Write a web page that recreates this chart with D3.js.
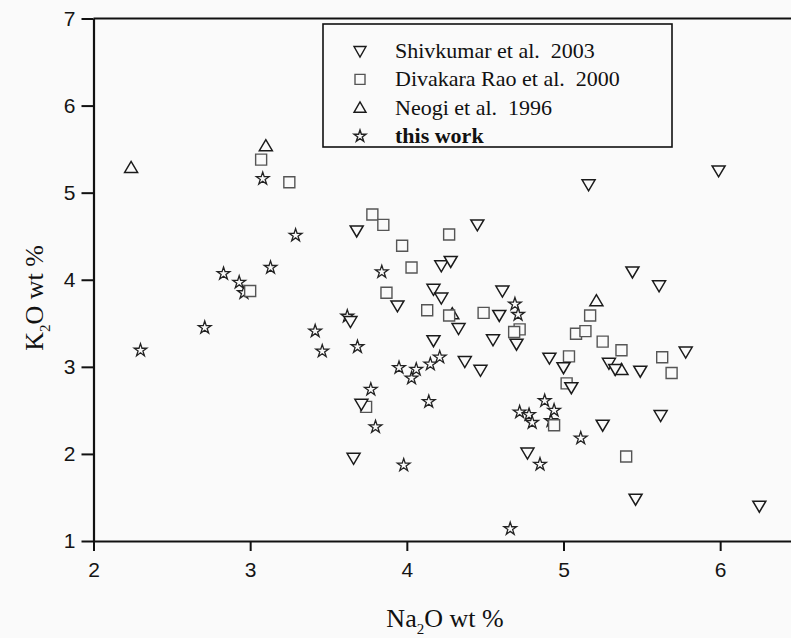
<!DOCTYPE html>
<html>
<head>
<meta charset="utf-8">
<script src="https://cdn.jsdelivr.net/npm/d3@7"></script>
<style>
  html, body { margin: 0; padding: 0; background: #fafafa; }
  svg { display: block; }
  .tick text { font-family: "Liberation Sans", Arial, sans-serif; font-size: 21px; fill: #141414; }
</style>
</head>
<body>
<svg id="chart" width="791" height="638"></svg>
<script>
// Na2O vs K2O (wt %) for granitoid samples from four sources
const shivkumarNa = [3.68, 3.64, 3.71, 3.66, 3.94, 4.17, 4.22, 4.22, 4.28, 4.45, 4.33, 4.17, 4.37, 4.47, 4.55, 4.59, 4.61, 4.70, 4.77, 4.91, 5.00, 5.05, 5.16, 5.25, 5.29, 5.33, 5.44, 5.49, 5.46, 5.61, 5.62, 5.78, 5.99, 6.25];
const shivkumarK  = [4.56, 3.52, 2.57, 1.95, 3.70, 3.89, 3.79, 4.16, 4.21, 4.63, 3.44, 3.30, 3.06, 2.96, 3.31, 3.59, 3.87, 3.26, 2.01, 3.10, 2.99, 2.76, 5.09, 2.33, 3.04, 2.97, 4.09, 2.95, 1.48, 3.93, 2.44, 3.17, 5.25, 1.40];

const divakaraNa = [3.07, 3.25, 3.00, 3.78, 3.85, 3.97, 4.03, 3.87, 4.27, 4.13, 4.27, 4.49, 4.72, 4.685, 3.74, 4.94, 5.035, 5.02, 5.08, 5.14, 5.17, 5.25, 5.37, 5.63, 5.69, 5.40];
const divakaraK  = [5.38, 5.12, 3.87, 4.75, 4.63, 4.39, 4.14, 3.85, 4.52, 3.65, 3.59, 3.62, 3.43, 3.40, 2.54, 2.33, 3.12, 2.81, 3.38, 3.41, 3.59, 3.29, 3.19, 3.11, 2.93, 1.97];

const neogiNa = [2.24, 3.10, 4.29, 5.21, 5.37];
const neogiK  = [5.29, 5.54, 3.61, 3.76, 2.97];

const thisWorkNa = [2.30, 2.71, 2.83, 2.93, 2.96, 3.08, 3.13, 3.29, 3.415, 3.46, 3.62, 3.685, 3.77, 3.80, 3.84, 3.95, 3.98, 4.03, 4.06, 4.14, 4.15, 4.21, 4.66, 4.69, 4.71, 4.72, 4.78, 4.80, 4.85, 4.88, 4.92, 4.94, 5.11];
const thisWorkK  = [3.19, 3.45, 4.07, 3.97, 3.85, 5.16, 4.14, 4.51, 3.41, 3.18, 3.58, 3.23, 2.74, 2.31, 4.09, 2.99, 1.87, 2.87, 2.97, 2.60, 3.03, 3.11, 1.14, 3.72, 3.60, 2.48, 2.45, 2.36, 1.88, 2.61, 2.38, 2.50, 2.18];

const legendLabels = ["Shivkumar et al.\u00a0 2003", "Divakara Rao et al.\u00a0 2000", "Neogi et al.\u00a0 1996", "this work"];
const xTicks = [2, 3, 4, 5, 6];
const yTicks = [1, 2, 3, 4, 5, 6, 7];

const svg = d3.select("#chart");
const bg = "#fafafa";

const x = d3.scaleLinear().domain([2, 6.5]).range([93.5, 798.5]);
const y = d3.scaleLinear().domain([1, 7]).range([541, 18.5]);

// marker shapes
const triDown = "M-6.5,-5L6.5,-5L0,6Z";
const triUp = "M-6.5,5L6.5,5L0,-6Z";
const square = "M-5.5,-5.5H5.5V5.5H-5.5Z";
const star = d3.symbol().type(d3.symbolStar).size(50)();

const series = [
  { na: thisWorkNa, k: thisWorkK, path: star, stroke: "#222", sw: 1.3 },
  { na: neogiNa, k: neogiK, path: triUp, stroke: "#1a1a1a", sw: 1.5 },
  { na: divakaraNa, k: divakaraK, path: square, stroke: "#555", sw: 1.4 },
  { na: shivkumarNa, k: shivkumarK, path: triDown, stroke: "#1a1a1a", sw: 1.5 }
];

// axes
const yAxis = d3.axisLeft(y).tickValues(yTicks).tickFormat(d3.format("d")).tickSize(12).tickSizeOuter(0).tickPadding(6);
const xAxis = d3.axisBottom(x).tickValues(xTicks).tickFormat(d3.format("d")).tickSize(10).tickSizeOuter(0).tickPadding(6);

const gy = svg.append("g").attr("transform", `translate(${x(2)},0)`).call(yAxis);
const gx = svg.append("g").attr("transform", `translate(0,${y(1)})`).call(xAxis);
[gx, gy].forEach(g => {
  g.select(".domain").attr("stroke", "#111").attr("stroke-width", 2.2);
  g.selectAll(".tick line").attr("stroke", "#111").attr("stroke-width", 2);
});
gx.selectAll(".tick text").attr("dy", "0.95em");

// top frame line
svg.append("line")
  .attr("x1", x(2)).attr("x2", x(6.5))
  .attr("y1", y(7)).attr("y2", y(7))
  .attr("stroke", "#111").attr("stroke-width", 2.2);

// points
series.forEach(s => {
  svg.append("g").selectAll("path")
    .data(s.na.map((v, i) => [v, s.k[i]]))
    .join("path")
    .attr("d", s.path)
    .attr("transform", d => `translate(${x(d[0])},${y(d[1])})`)
    .attr("fill", bg)
    .attr("stroke", s.stroke)
    .attr("stroke-width", s.sw)
    .attr("stroke-linejoin", "miter");
});

// legend
const lg = svg.append("g");
lg.append("rect")
  .attr("x", 323).attr("y", 24).attr("width", 349).attr("height", 123)
  .attr("fill", bg).attr("stroke", "#111").attr("stroke-width", 1.6);
const legendShapes = [
  { path: "M-6,-4.5L6,-4.5L0,6Z", stroke: "#1a1a1a" },
  { path: "M-5,-5H5V5H-5Z", stroke: "#555" },
  { path: "M-6,4.5L6,4.5L0,-6Z", stroke: "#1a1a1a" },
  { path: d3.symbol().type(d3.symbolStar).size(44)(), stroke: "#222" }
];
legendLabels.forEach((lab, i) => {
  const cy = 51 + i * 28.4;
  lg.append("path")
    .attr("d", legendShapes[i].path)
    .attr("transform", `translate(360,${cy})`)
    .attr("fill", bg).attr("stroke", legendShapes[i].stroke).attr("stroke-width", 1.4);
  lg.append("text")
    .attr("x", 395).attr("y", cy + 7)
    .attr("font-family", "'Liberation Serif', 'Times New Roman', serif")
    .attr("font-size", 22)
    .attr("font-weight", i === 3 ? "bold" : "normal")
    .attr("fill", "#111")
    .text(lab);
});

// axis titles with subscripts
function chemTitle(g, el, rest) {
  const t = g.append("text")
    .attr("font-family", "'Liberation Serif', 'Times New Roman', serif")
    .attr("font-size", 26)
    .attr("fill", "#111");
  t.append("tspan").text(el);
  t.append("tspan").attr("font-size", 15).attr("dy", 7).text("2");
  t.append("tspan").attr("dy", -7).text(rest);
  return t;
}
chemTitle(svg, "Na", "O wt %").attr("x", 445).attr("y", 627).attr("text-anchor", "middle");
chemTitle(svg, "K", "O wt %")
  .attr("text-anchor", "middle")
  .attr("transform", "translate(43,298) rotate(-90)");
</script>
</body>
</html>
